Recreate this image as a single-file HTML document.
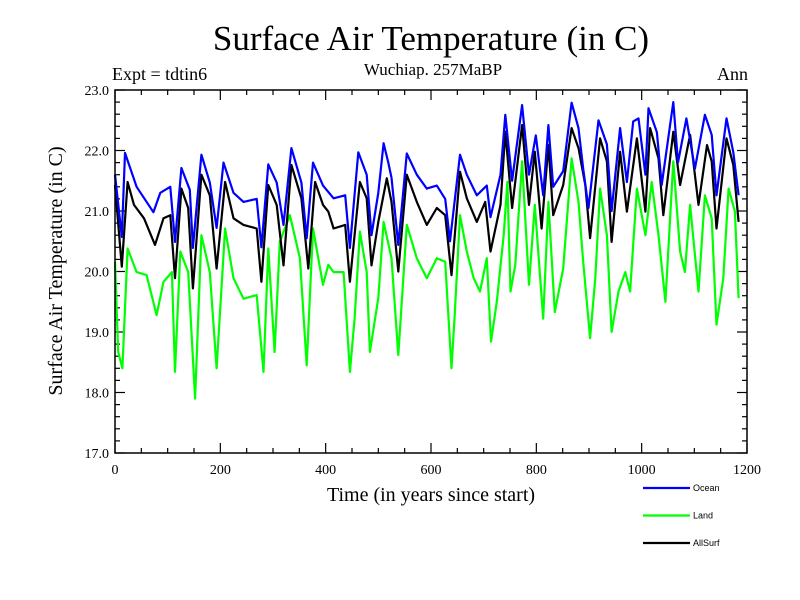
<!DOCTYPE html>
<html><head><meta charset="utf-8"><style>
body{margin:0;background:#fff}
svg{display:block}
text{font-family:"Liberation Serif",serif;fill:#000}
</style></head><body>
<svg id="chart" width="800" height="600" viewBox="0 0 800 600" xmlns="http://www.w3.org/2000/svg">
<text x="431" y="50" font-size="35" text-anchor="middle">Surface Air Temperature (in C)</text>
<text x="433" y="75" font-size="17" text-anchor="middle">Wuchiap. 257MaBP</text>
<text x="112" y="80" font-size="18">Expt = tdtin6</text>
<text x="748" y="80" font-size="18" text-anchor="end">Ann</text>
<text transform="translate(62,271) rotate(-90)" font-size="20" text-anchor="middle">Surface Air Temperature (in C)</text>
<text x="431" y="501" font-size="20" text-anchor="middle">Time (in years since start)</text>
<g id="ticks"></g>
<g id="series"></g>
<rect x="115" y="90" width="632" height="363" fill="none" stroke="#000" stroke-width="1.5"/>
<g id="legend"></g>
</svg>
<script>
const oceanYears=[0,13,19,41,73,86,105,114,126,142,148,164,180,193,206,225,244,269,278,291,307,320,335,354,364,376,395,415,437,446,462,478,487,500,510,519,525,538,554,573,592,611,627,636,655,668,687,706,713,732,741,754,773,786,799,813,823,832,851,867,880,889,899,918,934,943,959,972,984,994,1007,1013,1029,1038,1060,1069,1085,1101,1120,1133,1142,1161,1174,1184];
const oceanVals=[21.6,20.57,21.96,21.4,20.98,21.3,21.4,20.49,21.71,21.35,20.39,21.93,21.47,20.72,21.8,21.3,21.15,21.2,20.4,21.77,21.47,20.77,22.04,21.47,20.55,21.8,21.42,21.21,21.26,20.39,21.97,21.6,20.6,21.3,22.12,21.8,21.55,20.44,21.95,21.6,21.37,21.42,21.2,20.5,21.93,21.6,21.26,21.42,20.9,21.6,22.59,21.5,22.75,21.6,22.25,21.26,22.42,21.4,21.66,22.79,22.37,21.7,21.05,22.5,22.1,21.0,22.37,21.48,22.48,22.53,21.6,22.7,22.3,21.43,22.8,21.8,22.53,21.7,22.59,22.26,21.26,22.53,21.97,21.26];
const allYears=[0,13,24,36,55,76,92,105,114,126,139,148,164,180,193,209,225,244,269,278,291,307,320,335,354,367,380,395,405,415,437,446,465,478,487,500,516,525,538,554,573,592,611,627,639,655,668,687,703,713,732,741,754,773,786,797,810,823,832,851,867,880,893,902,921,934,943,959,972,991,1007,1016,1032,1041,1060,1073,1092,1108,1124,1133,1142,1161,1174,1184];
const allVals=[21.43,20.08,21.48,21.1,20.88,20.44,20.88,20.93,19.89,21.37,21.05,19.72,21.6,21.26,20.05,21.48,20.88,20.77,20.71,19.83,21.43,21.1,20.1,21.76,21.21,20.05,21.48,21.1,20.99,20.71,20.77,19.83,21.48,21.21,20.1,20.82,21.54,21.15,20.0,21.6,21.15,20.77,21.05,20.93,19.94,21.65,21.21,20.82,21.15,20.33,21.1,22.31,21.05,22.42,21.1,21.98,20.71,22.09,20.93,21.43,22.37,22.04,21.43,20.55,22.2,21.82,20.49,21.98,20.99,22.2,20.99,22.37,21.87,20.93,22.31,21.43,22.26,21.1,22.09,21.82,20.71,22.2,21.76,20.82];
const landYears=[0,6,14,24,41,60,79,92,108,114,124,139,152,164,180,193,209,225,244,269,282,291,303,313,332,351,364,376,395,405,415,434,446,455,465,478,484,500,510,525,538,554,573,592,611,627,639,645,655,668,681,693,706,714,725,738,745,751,760,773,786,797,813,823,835,851,867,880,889,902,912,921,934,943,956,969,978,991,1007,1019,1032,1045,1060,1073,1082,1092,1108,1120,1133,1142,1155,1165,1177,1184];
const landVals=[20.16,18.67,18.4,20.38,19.99,19.94,19.28,19.83,19.99,18.34,20.33,19.99,17.9,20.6,19.99,18.4,20.71,19.89,19.55,19.61,18.34,20.38,18.67,20.49,20.93,20.22,18.45,20.71,19.78,20.11,19.99,19.99,18.34,19.22,20.66,19.99,18.67,19.56,20.82,20.22,18.62,20.77,20.22,19.89,20.22,20.16,18.4,19.28,20.93,20.33,19.89,19.67,20.22,18.84,19.5,20.6,21.48,19.67,20.11,21.82,19.78,21.1,19.22,21.15,19.33,20.05,21.87,21.15,20.16,18.9,19.89,21.37,20.6,19.0,19.67,19.99,19.67,21.37,20.6,21.48,20.6,19.5,21.82,20.33,19.99,21.1,19.67,21.26,20.88,19.12,19.89,21.37,20.99,19.56];
const yTickVals=[17,18,19,20,21,22,23];
const yTickLabels=["17.0","18.0","19.0","20.0","21.0","22.0","23.0"];
const xTickVals=[0,200,400,600,800,1000,1200];
const xTickLabels=["0","200","400","600","800","1000","1200"];
const legendNames=["Ocean","Land","AllSurf"];

const NS="http://www.w3.org/2000/svg";
const X0=115,X1=747,Y0=453,Y1=90;
function xs(v){return X0+(v-0)/1200*(X1-X0);}
function ys(v){return Y0-(v-17)/6*(Y0-Y1);}
function mk(tag,attrs,parent){const e=document.createElementNS(NS,tag);for(const k in attrs)e.setAttribute(k,attrs[k]);parent.appendChild(e);return e;}
const tg=document.getElementById('ticks');
for(let v=17;v<=23.001;v+=0.2){
  const major=Math.abs(v-Math.round(v))<1e-6;const L=major?10:5;const y=ys(v);
  const t1=mk('line',{x1:X0,x2:X0+L,y1:y,y2:y,stroke:'#000','stroke-width':1.2},tg);
  
  
  const t2=mk('line',{x1:X1,x2:X1-L,y1:y,y2:y,stroke:'#000','stroke-width':1.2},tg);
  
  
}
for(let v=0;v<=1200;v+=50){
  const major=v%200===0;const L=major?10:5;const x=xs(v);
  const t1=mk('line',{x1:x,x2:x,y1:Y0,y2:Y0-L,stroke:'#000','stroke-width':1.2},tg);
  
  
  const t2=mk('line',{x1:x,x2:x,y1:Y1,y2:Y1+L,stroke:'#000','stroke-width':1.2},tg);
  
  
}
yTickVals.forEach((v,i)=>{
  const t=mk('text',{x:X0-6,y:ys(v)+5,'font-size':14,'text-anchor':'end'},tg);
  t.textContent=yTickLabels[i];
  
  
});
xTickVals.forEach((v,i)=>{
  const t=mk('text',{x:xs(v),y:474,'font-size':14,'text-anchor':'middle'},tg);
  t.textContent=xTickLabels[i];
  
  
});
const sg=document.getElementById('series');
function line(years,vals,color,name){
  const pts=years.map((yr,i)=>xs(yr).toFixed(1)+','+ys(vals[i]).toFixed(1)).join(' ');
  const p=mk('polyline',{points:pts,fill:'none',stroke:color,'stroke-width':2.2,'stroke-linejoin':'round'},sg);
  
  
}
line(landYears,landVals,'#00ff00','land-line');
line(allYears,allVals,'#000000','allsurf-line');
line(oceanYears,oceanVals,'#0000ff','ocean-line');
const lg=document.getElementById('legend');
const lcolors=['#0000ff','#00ff00','#000000'];
legendNames.forEach((n,i)=>{
  const y=488+i*27.5;
  const l=mk('line',{x1:643,x2:690,y1:y,y2:y,stroke:lcolors[i],'stroke-width':2.2},lg);
  
  
  const t=mk('text',{x:693,y:y+3,'font-size':9,style:'font-family:"Liberation Sans",sans-serif'},lg);
  t.textContent=n;
  
  
});
</script>
</body></html>
